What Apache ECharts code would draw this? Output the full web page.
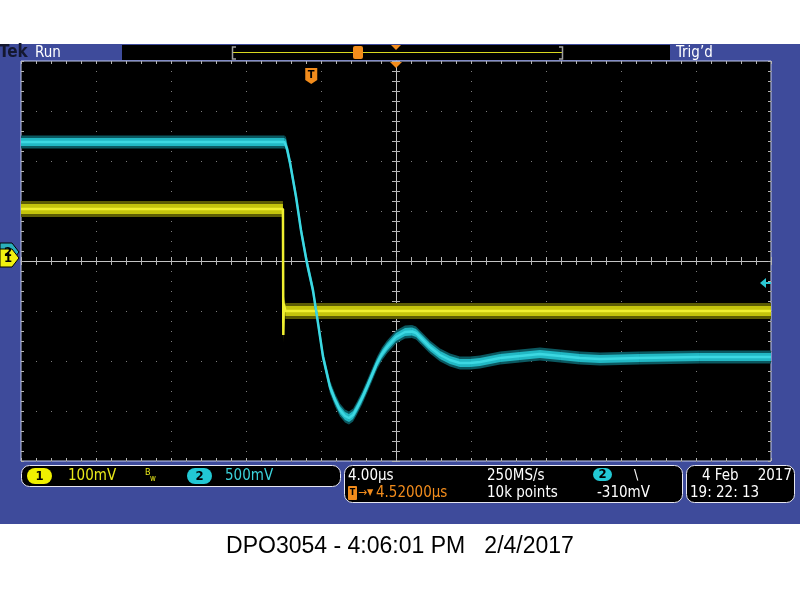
<!DOCTYPE html>
<html><head><meta charset="utf-8">
<script src="https://cdn.jsdelivr.net/npm/echarts@6/dist/echarts.min.js"></script>
<style>html,body{margin:0;padding:0;background:#fff}#c{width:800px;height:600px}</style>
</head><body><div id="c"></div>
<script>
// ---- Data (time in µs relative to screen centre, voltages in mV) ----
const ch1Time = [-20, -6.03, -6.01, -5.98, -5.9, 20];
const ch1mV   = [98, 98, -154, -92, -106, -106];

const ch2Time = [-20, -5.95, -5.87, -5.81, -5.65, -5.33, -5.07, -4.75, -4.43, -4.16, -3.89, -3.52, -3.25, -2.99, -2.72, -2.51, -2.29, -2.08, -1.81, -1.55, -1.28, -1.01, -0.75, -0.48, 0, 0.48, 0.85, 1.07, 1.28, 1.81, 2.35, 2.88, 3.41, 3.95, 4.48, 5.55, 6.61, 7.68, 8.75, 9.81, 10.88, 13.01, 16.21, 20];
const ch2mV   = [1100, 1100, 1085, 1030, 890, 550, 220, -110, -380, -710, -1050, -1350, -1480, -1580, -1640, -1660, -1630, -1560, -1460, -1350, -1230, -1110, -1020, -950, -850, -800, -795, -810, -850, -950, -1030, -1080, -1110, -1110, -1100, -1060, -1040, -1020, -1040, -1060, -1070, -1060, -1050, -1050];

const timeRange = [-20, 20];      // 10 div × 4.00 µs
const timePerDiv = 4;
const divRange = [-4, 4];         // 8 vertical divisions
const ch1Range = [-406, 394];     // 100 mV/div, ground marker slightly above centre
const ch2Range = [-2090, 1910];   // 500 mV/div
const triggerTime = -4.52;        // trigger point relative to centre (µs)
const triggerLevel = -310;        // mV on channel 2

const infoTexts = {
  ch1Scale: '100mV', ch2Scale: '500mV', timeDiv: '4.00µs', delay: '4.52000µs',
  rate: '250MS/s', points: '10k points', level: '-310mV',
  date1: '4 Feb', date2: '2017', time: '19: 22: 13',
  footer: 'DPO3054 - 4:06:01 PM   2/4/2017'
};

// ---- Styling ----
const BLUE = '#3e4b9b';
const UI_FONT = '"DejaVu Sans Condensed", "DejaVu Sans", sans-serif';
const ORANGE = '#f28c1c';
const YEL = '#e8e81a';
const CYAN = '#2cc8d4';

const chart = echarts.init(document.getElementById('c'), null, {renderer: 'canvas'});

function bandSeries(t, v, yIdx, h, color, z) {
  return {
    type: 'custom', xAxisIndex: 0, yAxisIndex: yIdx, silent: true, z: z,
    data: t.map((x, i) => [x, v[i]]),
    encode: {x: 0, y: 1},
    renderItem(params, api) {
      const i = params.dataIndex;
      if (i >= t.length - 1) return;
      const p0 = api.coord([t[i], v[i]]);
      const p1 = api.coord([t[i + 1], v[i + 1]]);
      return {
        type: 'polygon',
        shape: {points: [[p0[0], p0[1] - h], [p1[0], p1[1] - h], [p1[0], p1[1] + h], [p0[0], p0[1] + h]]},
        style: {fill: color}
      };
    }
  };
}
function coreLine(t, v, yIdx, color, w, z) {
  return {
    type: 'line', xAxisIndex: 0, yAxisIndex: yIdx, showSymbol: false, silent: true, z: z,
    data: t.map((x, i) => [x, v[i]]),
    lineStyle: {color: color, width: w}
  };
}

const tickCol = '#b4b4b4';
const edgeX = (pos) => ({
  gridIndex: 0, type: 'value', min: timeRange[0], max: timeRange[1], interval: timePerDiv, position: pos,
  axisLine: {show: false, onZero: false}, axisLabel: {show: false},
  axisTick: {show: true, inside: true, length: 3, lineStyle: {color: tickCol}},
  minorTick: {show: true, splitNumber: 5, length: 3, lineStyle: {color: tickCol}},
  splitLine: {show: pos === 'bottom', lineStyle: {color: '#7c7c7c', width: 1, type: [1, 9]}},
  minorSplitLine: {show: false}
});
const edgeY = (pos) => ({
  gridIndex: 0, type: 'value', min: divRange[0], max: divRange[1], interval: 1, position: pos,
  axisLine: {show: false, onZero: false}, axisLabel: {show: false},
  axisTick: {show: true, inside: true, length: 3, lineStyle: {color: tickCol}},
  minorTick: {show: true, splitNumber: 5, length: 3, lineStyle: {color: tickCol}},
  splitLine: {show: pos === 'left', lineStyle: {color: '#7c7c7c', width: 1, type: [1, 14]}}
});
const centerX = (pos) => ({
  gridIndex: 1, type: 'value', min: timeRange[0], max: timeRange[1], interval: timePerDiv, position: pos,
  axisLine: {show: pos === 'bottom', onZero: true, lineStyle: {color: '#c4c4c4', width: 1}}, axisLabel: {show: false},
  axisTick: {show: true, inside: false, length: 4, lineStyle: {color: tickCol}},
  minorTick: {show: true, splitNumber: 5, length: 4, lineStyle: {color: tickCol}},
  splitLine: {show: false}
});
const centerY = (pos) => ({
  gridIndex: 1, type: 'value', min: divRange[0], max: divRange[1], interval: 1, position: pos,
  axisLine: {show: pos === 'left', onZero: true, lineStyle: {color: '#c4c4c4', width: 1}}, axisLabel: {show: false},
  axisTick: {show: true, inside: false, length: 4, lineStyle: {color: tickCol}},
  minorTick: {show: true, splitNumber: 5, length: 4, lineStyle: {color: tickCol}},
  splitLine: {show: false}
});

const baseOption = {
  animation: false,
  backgroundColor: '#ffffff',
  grid: [
    {left: 21, top: 61, width: 750, height: 400, show: true, backgroundColor: '#000', borderColor: '#c4ccf0', borderWidth: 1, containLabel: false, outerBoundsMode: 'none'},
    {left: 21, top: 61, width: 750, height: 400, show: false, containLabel: false, outerBoundsMode: 'none'}
  ],
  xAxis: [edgeX('bottom'), edgeX('top'), centerX('bottom'), centerX('top')],
  yAxis: [
    edgeY('left'), edgeY('right'),
    {gridIndex: 0, type: 'value', min: ch1Range[0], max: ch1Range[1], show: false},
    {gridIndex: 0, type: 'value', min: ch2Range[0], max: ch2Range[1], show: false},
    centerY('left'), centerY('right')
  ],
  series: [
    bandSeries(ch1Time, ch1mV, 2, 8, '#5c5c04', 3),
    bandSeries(ch1Time, ch1mV, 2, 5, '#c4c40c', 4),
    coreLine(ch1Time, ch1mV, 2, '#f0f030', 2.5, 5),
    bandSeries(ch2Time, ch2mV, 3, 6.5, '#0b5860', 6),
    bandSeries(ch2Time, ch2mV, 3, 4, '#22b8c4', 7),
    coreLine(ch2Time, ch2mV, 3, '#3cd8e2', 2.5, 8)
  ]
};
chart.setOption(baseOption);

// positions derived from the axes
const trigX = chart.convertToPixel({xAxisIndex: 0}, triggerTime);
const centreX = chart.convertToPixel({xAxisIndex: 0}, 0);
const trigY = chart.convertToPixel({yAxisIndex: 3}, triggerLevel);
const ch1Gnd = chart.convertToPixel({yAxisIndex: 2}, 0);
const ch2Gnd = chart.convertToPixel({yAxisIndex: 3}, 0);

function txt(text, x, y, fill, size, opts) {
  return {type: 'text', z: 20, style: {text: text, x: x, y: y, fill: fill,
    font: (opts && opts.weight ? opts.weight + ' ' : '') + size + 'px ' + ((opts && opts.family) || UI_FONT),
    textAlign: (opts && opts.align) || 'left', textVerticalAlign: 'middle'}};
}
function badge(label, x, y, w, h, color) {
  return [
    {type: 'rect', z: 20, shape: {x: x, y: y, width: w, height: h, r: h / 2}, style: {fill: color}},
    txt(label, x + w / 2, y + h / 2 + 0.5, '#000', 13, {weight: 'bold', align: 'center'})
  ];
}
function gndMarker(label, y, color) {
  const t = txt(label, 8, y + 0.5, '#000', 13, {weight: 'bold', align: 'center'});
  t.z = 31;
  return [
    {type: 'polygon', z: 30, shape: {points: [[0, y - 9], [12, y - 9], [19, y], [12, y + 9], [0, y + 9]]}, style: {fill: color, stroke: '#000', lineWidth: 1}},
    t
  ];
}

const trigT = txt('T', trigX, 75, '#000', 11, {weight: 'bold', align: 'center'});
trigT.z = 31;

const els = [
  // blue instrument frame
  {type: 'rect', z: -10, shape: {x: 0, y: 44, width: 800, height: 480}, style: {fill: BLUE}},
  {type: 'rect', z: -9, shape: {x: 122, y: 45, width: 548, height: 15}, style: {fill: '#000'}},
  txt('Tek', -1, 53, '#141830', 17, {weight: 'bold'}),
  txt('Run', 35, 53, '#fff', 15),
  txt('Trig’d', 676, 53, '#fff', 15),
  // record view
  {type: 'line', z: 20, shape: {x1: 233, y1: 52.5, x2: 562, y2: 52.5}, style: {stroke: '#d8d820', lineWidth: 1}},
  {type: 'polyline', z: 20, shape: {points: [[236, 47], [232.5, 47], [232.5, 59], [236, 59]]}, style: {stroke: '#a0a0a0', lineWidth: 1.5, fill: null}},
  {type: 'polyline', z: 20, shape: {points: [[559, 47], [562.5, 47], [562.5, 59], [559, 59]]}, style: {stroke: '#a0a0a0', lineWidth: 1.5, fill: null}},
  {type: 'rect', z: 21, shape: {x: 353, y: 46, width: 10, height: 13, r: 2}, style: {fill: ORANGE}},
  txt('T', 358, 52.5, '#000', 9, {weight: 'bold', align: 'center'}),
  {type: 'polygon', z: 21, shape: {points: [[centreX - 5, 45], [centreX + 5, 45], [centreX, 50]]}, style: {fill: ORANGE}},
  {type: 'polygon', z: 30, shape: {points: [[centreX - 6, 62], [centreX + 6, 62], [centreX, 68]]}, style: {fill: ORANGE}},
  // trigger position marker
  {type: 'polygon', z: 30, shape: {points: [[trigX - 6, 68], [trigX + 6, 68], [trigX + 6, 80], [trigX, 84], [trigX - 6, 80]]}, style: {fill: ORANGE}},
  trigT,
  // trigger level arrow
  {type: 'polygon', z: 30, shape: {points: [[760, trigY], [766, trigY - 5], [766, trigY + 5]]}, style: {fill: CYAN}},
  {type: 'rect', z: 30, shape: {x: 765, y: trigY - 1, width: 6, height: 2}, style: {fill: CYAN}},
  // ground markers
  ...gndMarker('2', ch2Gnd, '#2aaebb'),
  ...gndMarker('1', ch1Gnd, '#f0f010'),
  // bottom info boxes
  {type: 'rect', z: 10, shape: {x: 21.5, y: 465.5, width: 319, height: 21, r: 8}, style: {fill: '#000', stroke: '#e6e6f0', lineWidth: 1}},
  {type: 'rect', z: 10, shape: {x: 344.5, y: 465.5, width: 338, height: 37, r: 8}, style: {fill: '#000', stroke: '#e6e6f0', lineWidth: 1}},
  {type: 'rect', z: 10, shape: {x: 686.5, y: 465.5, width: 108, height: 37, r: 8}, style: {fill: '#000', stroke: '#e6e6f0', lineWidth: 1}},
  ...badge('1', 27, 468, 25, 16, '#f0f000'),
  txt(infoTexts.ch1Scale, 68, 476, YEL, 15),
  txt('B', 145, 473, YEL, 9),
  txt('w', 150, 479, YEL, 8),
  ...badge('2', 187, 468, 25, 16, '#22c8d4'),
  txt(infoTexts.ch2Scale, 225, 476, '#3cd2da', 15),
  txt(infoTexts.timeDiv, 348, 476, '#fff', 15),
  {type: 'rect', z: 20, shape: {x: 348, y: 486, width: 9, height: 14, r: 1}, style: {fill: ORANGE}},
  txt('T', 352.5, 493, '#000', 9, {weight: 'bold', align: 'center'}),
  txt('→', 358, 493, ORANGE, 12),
  txt('▼', 367, 493, ORANGE, 9),
  txt(infoTexts.delay, 376, 493, ORANGE, 15),
  txt(infoTexts.rate, 487, 476, '#fff', 15),
  txt(infoTexts.points, 487, 493, '#fff', 15),
  ...badge('2', 593, 468, 19, 13, '#22c8d4'),
  txt('\\', 634, 475, '#fff', 14),
  txt(infoTexts.level, 597, 493, '#fff', 15),
  txt(infoTexts.date1, 702, 476, '#fff', 15),
  txt(infoTexts.date2, 792, 476, '#fff', 15, {align: 'right'}),
  txt(infoTexts.time, 690, 493, '#fff', 15),
  // caption
  txt(infoTexts.footer, 400, 547, '#000', 23, {family: '"Liberation Sans", Arial, sans-serif', align: 'center'})
];
chart.setOption({graphic: {elements: els}});
</script></body></html>
